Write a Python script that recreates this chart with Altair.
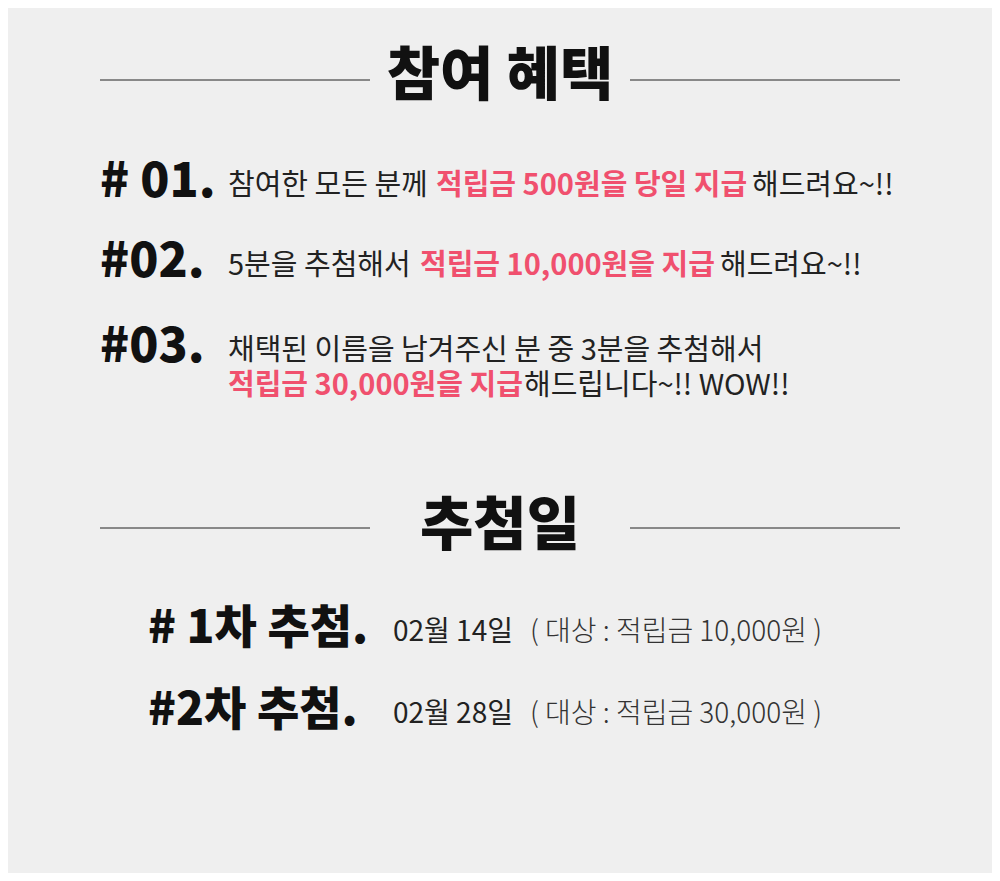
import altair as alt
import pandas as pd

FONT = "Noto Sans CJK KR"
PINK = "#f0506e"

# heading texts
head_text = ["참여 혜택", "추첨일"]
head_x = [500, 500]
head_y = [78, 528]

# divider lines
rule_x = [100, 630, 100, 630]
rule_x2 = [370, 900, 370, 900]
rule_y = [80, 80, 528, 528]

# bold numbers
num_text = ["# 01.", "#02.", "#03."]
num_x = [100, 100, 100]
num_y = [183, 263, 348]

# body text (regular black)
body_text = ["참여한 모든 분께", "해드려요~!!", "5분을 추첨해서", "해드려요~!!",
             "채택된 이름을 남겨주신 분 중 3분을 추첨해서", "해드립니다~!! WOW!!"]
body_x = [228, 752, 228, 720, 228, 524]
body_y = [186, 186, 266, 266, 351, 386]

# pink highlights
pink_text = ["적립금 500원을 당일 지급", "적립금 10,000원을 지급", "적립금 30,000원을 지급"]
pink_x = [436, 420, 228]
pink_y = [186, 266, 386]

# draw rounds
round_text = ["# 1차 추첨.", "#2차 추첨."]
round_x = [148, 148]
round_y = [629, 711]
date_text = ["02월  14일", "02월 28일"]
date_x = [393, 393]
date_y = [633, 715]
target_text = ["( 대상 : 적립금  10,000원 )", "( 대상 : 적립금 30,000원 )"]
target_x = [530, 530]
target_y = [633, 715]

xs = alt.Scale(domain=[0, 1000], range=[-8, 992])
ys = alt.Scale(domain=[0, 881], range=[-8, 873])

def txt(texts, x, y, size, weight, color, align="left"):
    df = pd.DataFrame({"t": texts, "x": x, "y": y})
    return alt.Chart(df).mark_text(font=FONT, fontSize=size, fontWeight=weight,
                                   color=color, align=align, baseline="middle").encode(
        x=alt.X("x:Q", scale=xs, axis=None), y=alt.Y("y:Q", scale=ys, axis=None), text="t:N")

rules = alt.Chart(pd.DataFrame({"x": rule_x, "x2": rule_x2, "y": rule_y})).mark_rule(
    color="#222", strokeWidth=1).encode(
    x=alt.X("x:Q", scale=xs, axis=None), x2="x2:Q", y=alt.Y("y:Q", scale=ys, axis=None))

chart = alt.layer(
    rules,
    txt(head_text, head_x, head_y, 58, 900, "#111", "center"),
    txt(num_text, num_x, num_y, 48, 900, "#111"),
    txt(body_text, body_x, body_y, 29, 400, "#222"),
    txt(pink_text, pink_x, pink_y, 29, 700, PINK),
    txt(round_text, round_x, round_y, 46, 900, "#111"),
    txt(date_text, date_x, date_y, 28, 400, "#222"),
    txt(target_text, target_x, target_y, 28, 300, "#333"),
).properties(width=984, height=865, background="#efefef",
             padding=0).configure_view(stroke=None)

chart.save("out.html", embed_options={"renderer": "svg", "actions": False})
